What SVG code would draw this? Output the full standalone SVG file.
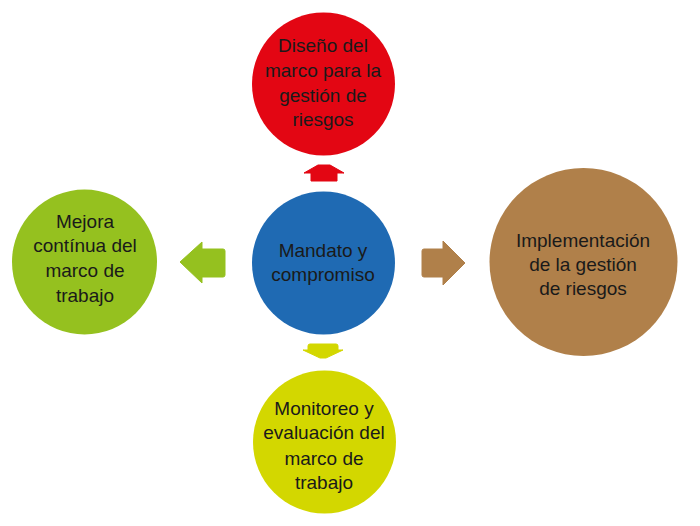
<svg xmlns="http://www.w3.org/2000/svg" width="700" height="526" viewBox="0 0 700 526">
<style>
text{font-family:"Liberation Sans",Arial,sans-serif;font-size:19px;fill:#1a1a1a;text-anchor:middle}
</style>
<rect width="700" height="526" fill="#ffffff"/>
<g id="connectors">
<path d="M304,173 L318,165 L330,165 L344,173 L337,173 L337,181 L311,181 L311,173 Z" fill="#e30613" stroke="#e30613" stroke-width="1" stroke-linejoin="round"/>
<path d="M180,262 L202,242 L202,249 L223,249 Q225,249 225,251 L225,275 Q225,277 223,277 L202,277 L202,283 Z" fill="#95c11f" stroke="#95c11f" stroke-width="1" stroke-linejoin="round"/>
<path d="M465,263 L443,241 L443,249 L424,249 Q422,249 422,251 L422,275 Q422,277 424,277 L443,277 L443,285 Z" fill="#b0804a" stroke="#b0804a" stroke-width="1" stroke-linejoin="round"/>
<path d="M310,344 L336,344 Q338,344 338,346 L338,350 L343,350 L326,358 L320,358 L303,350 L308,350 L308,346 Q308,344 310,344 Z" fill="#d3d700" stroke="#d3d700" stroke-width="1" stroke-linejoin="round"/>
</g>
<g id="diseno">
<circle cx="323.5" cy="84" r="71.5" fill="#e30613"/>
<text x="323" y="52">Diseño del</text>
<text x="323" y="77">marco para la</text>
<text x="323" y="102">gestión de</text>
<text x="323" y="126">riesgos</text>
</g>
<g id="mandato">
<circle cx="323.5" cy="263" r="71.5" fill="#1f6ab3"/>
<text x="323" y="257">Mandato y</text>
<text x="323" y="281">compromiso</text>
</g>
<g id="mejora">
<circle cx="84.5" cy="262" r="72.5" fill="#95c11f"/>
<text x="85" y="228">Mejora</text>
<text x="85" y="252">contínua del</text>
<text x="85" y="277">marco de</text>
<text x="85" y="302">trabajo</text>
</g>
<g id="implementacion">
<circle cx="583.5" cy="262" r="94" fill="#b0804a"/>
<text x="583" y="247">Implementación</text>
<text x="583" y="271">de la gestión</text>
<text x="583" y="295">de riesgos</text>
</g>
<g id="monitoreo">
<circle cx="324.5" cy="442" r="71.5" fill="#d3d700"/>
<text x="324" y="415">Monitoreo y</text>
<text x="324" y="439">evaluación del</text>
<text x="324" y="465">marco de</text>
<text x="324" y="489">trabajo</text>
</g>
</svg>
